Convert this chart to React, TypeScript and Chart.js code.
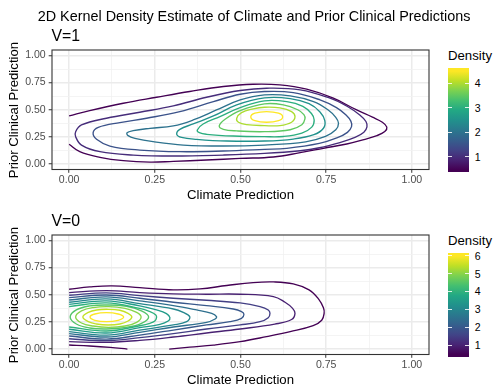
import React, { useEffect, useRef } from 'react';
import { Chart, registerables } from 'chart.js';

Chart.register(...registerables);

const FONT = '"Liberation Sans", Arial, Helvetica, sans-serif';
Chart.defaults.font.family = FONT;

// ---------- text ----------
const mainTitle = '2D Kernel Density Estimate of Climate and Prior Clinical Predictions';
const xAxisTitle = 'Climate Prediction';
const yAxisTitle = 'Prior Clinical Prediction';
const legendTitle = 'Density';

// ---------- axis breaks ----------
const axisBreaks = [0, 0.25, 0.5, 0.75, 1];
const axisMinorBreaks = [0.125, 0.375, 0.625, 0.875];

// ---------- panel V=1 ----------
const v1Title = 'V=1';
const v1Levels = [0.5, 1, 1.5, 2, 2.5, 3, 3.5, 4, 4.5];
const v1Closed = [false, true, true, true, true, true, true, true, true];
const v1LegendBreaks = [1, 2, 3, 4];
const v1Paths: number[][][] = [
  [[0,0.443],[0.060,0.492],[0.158,0.560],[0.255,0.615],[0.352,0.668],[0.450,0.714],[0.537,0.735],[0.615,0.729],[0.693,0.689],[0.771,0.606],[0.839,0.498],[0.885,0.432],[0.914,0.385],[0.927,0.340],[0.921,0.300],[0.898,0.262],[0.860,0.225],[0.810,0.185],[0.742,0.145],[0.674,0.105],[0.596,0.065],[0.499,0.052],[0.401,0.037],[0.304,0.025],[0.236,0.018],[0.158,0.031],[0.090,0.062],[0.031,0.114],[0,0.182]],
  [[0.019,0.298],[0.036,0.360],[0.109,0.422],[0.206,0.477],[0.304,0.535],[0.401,0.615],[0.499,0.677],[0.576,0.698],[0.674,0.683],[0.761,0.606],[0.812,0.530],[0.848,0.452],[0.866,0.392],[0.869,0.342],[0.860,0.293],[0.834,0.245],[0.790,0.198],[0.730,0.150],[0.674,0.123],[0.570,0.098],[0.450,0.083],[0.304,0.074],[0.187,0.083],[0.090,0.114],[0.036,0.175],[0.019,0.252]],
  [[0.070,0.289],[0.085,0.338],[0.148,0.382],[0.226,0.422],[0.323,0.483],[0.421,0.575],[0.499,0.643],[0.570,0.668],[0.654,0.658],[0.732,0.591],[0.780,0.520],[0.808,0.452],[0.822,0.395],[0.824,0.345],[0.812,0.292],[0.781,0.240],[0.730,0.190],[0.635,0.145],[0.570,0.135],[0.450,0.120],[0.323,0.114],[0.206,0.129],[0.119,0.166],[0.080,0.228]],
  [[0.169,0.289],[0.187,0.308],[0.236,0.329],[0.304,0.351],[0.362,0.406],[0.430,0.498],[0.499,0.591],[0.570,0.637],[0.645,0.628],[0.713,0.575],[0.755,0.500],[0.778,0.430],[0.786,0.375],[0.778,0.315],[0.748,0.255],[0.690,0.205],[0.570,0.175],[0.450,0.166],[0.333,0.175],[0.245,0.206],[0.192,0.237],[0.172,0.262]],
  [[0.314,0.274],[0.323,0.320],[0.362,0.369],[0.421,0.443],[0.489,0.545],[0.570,0.609],[0.645,0.603],[0.700,0.556],[0.732,0.480],[0.746,0.400],[0.742,0.330],[0.714,0.270],[0.654,0.230],[0.570,0.212],[0.460,0.212],[0.372,0.228],[0.328,0.246]],
  [[0.374,0.314],[0.391,0.369],[0.440,0.437],[0.499,0.520],[0.570,0.582],[0.635,0.575],[0.682,0.532],[0.707,0.465],[0.715,0.406],[0.708,0.340],[0.679,0.285],[0.625,0.254],[0.570,0.252],[0.479,0.258],[0.401,0.274],[0.380,0.289]],
  [[0.438,0.351],[0.455,0.412],[0.499,0.492],[0.570,0.554],[0.625,0.545],[0.667,0.500],[0.685,0.455],[0.688,0.415],[0.679,0.362],[0.645,0.316],[0.570,0.298],[0.489,0.305],[0.450,0.320]],
  [[0.489,0.422],[0.503,0.474],[0.537,0.508],[0.570,0.523],[0.615,0.517],[0.649,0.483],[0.659,0.437],[0.649,0.385],[0.615,0.354],[0.570,0.354],[0.518,0.363],[0.494,0.385]],
  [[0.530,0.434],[0.542,0.468],[0.576,0.483],[0.611,0.468],[0.623,0.434],[0.611,0.400],[0.576,0.385],[0.542,0.400]],
];

// ---------- panel V=0 ----------
const v0Title = 'V=0';
const v0Levels = [0.5, 0.5, 1, 1.5, 2, 2.5, 3, 3.5, 4, 4.5, 5, 5.5, 6];
const v0Closed = [false, false, false, false, false, false, false, false, false, true, true, true, true];
const v0LegendBreaks = [1, 2, 3, 4, 5, 6];
const v0Paths: number[][][] = [
  [[0,0.551],[0.060,0.572],[0.125,0.582],[0.206,0.566],[0.304,0.545],[0.382,0.554],[0.460,0.585],[0.537,0.612],[0.596,0.618],[0.654,0.600],[0.700,0.545],[0.728,0.460],[0.742,0.380],[0.744,0.330],[0.737,0.265],[0.712,0.215],[0.645,0.160],[0.576,0.114],[0.499,0.068],[0.421,0.037],[0.352,0.018],[0.292,0]],
  [[0,0.037],[0.060,0.028],[0.120,0.015],[0.170,0]],
  [[0,0.520],[0.109,0.538],[0.206,0.520],[0.304,0.508],[0.401,0.505],[0.499,0.505],[0.596,0.483],[0.630,0.431],[0.652,0.375],[0.659,0.329],[0.649,0.272],[0.600,0.230],[0.499,0.185],[0.401,0.148],[0.304,0.111],[0.206,0.080],[0.109,0.062],[0,0.068]],
  [[0,0.495],[0.109,0.517],[0.206,0.492],[0.304,0.468],[0.401,0.449],[0.499,0.425],[0.557,0.391],[0.581,0.360],[0.586,0.329],[0.581,0.289],[0.557,0.252],[0.499,0.222],[0.401,0.185],[0.304,0.142],[0.206,0.105],[0.109,0.077],[0,0.095]],
  [[0,0.474],[0.109,0.498],[0.206,0.468],[0.304,0.431],[0.401,0.400],[0.479,0.369],[0.503,0.345],[0.510,0.320],[0.503,0.283],[0.469,0.252],[0.401,0.222],[0.304,0.175],[0.206,0.129],[0.109,0.092],[0,0.120]],
  [[0,0.452],[0.109,0.480],[0.206,0.443],[0.304,0.400],[0.372,0.360],[0.416,0.329],[0.430,0.298],[0.426,0.277],[0.401,0.246],[0.304,0.203],[0.206,0.154],[0.109,0.111],[0,0.142]],
  [[0,0.431],[0.109,0.462],[0.206,0.418],[0.304,0.369],[0.333,0.338],[0.352,0.298],[0.343,0.252],[0.304,0.222],[0.206,0.175],[0.109,0.129],[0,0.160]],
  [[0,0.412],[0.109,0.443],[0.206,0.397],[0.255,0.360],[0.284,0.326],[0.294,0.289],[0.289,0.258],[0.265,0.228],[0.206,0.197],[0.109,0.148],[0,0.182]],
  [[0,0.391],[0.109,0.425],[0.206,0.375],[0.236,0.345],[0.253,0.314],[0.255,0.289],[0.250,0.258],[0.236,0.237],[0.206,0.215],[0.109,0.166],[0,0.203]],
  [[0.003,0.295],[0.021,0.360],[0.060,0.397],[0.109,0.406],[0.167,0.394],[0.211,0.351],[0.232,0.295],[0.211,0.237],[0.167,0.200],[0.109,0.185],[0.060,0.194],[0.021,0.231]],
  [[0.019,0.295],[0.036,0.351],[0.070,0.382],[0.115,0.391],[0.163,0.375],[0.197,0.338],[0.210,0.295],[0.197,0.246],[0.163,0.212],[0.115,0.200],[0.070,0.212],[0.036,0.240]],
  [[0.040,0.295],[0.056,0.338],[0.080,0.360],[0.114,0.366],[0.148,0.357],[0.172,0.329],[0.183,0.295],[0.172,0.258],[0.148,0.231],[0.114,0.222],[0.080,0.231],[0.056,0.252]],
  [[0.061,0.295],[0.075,0.323],[0.109,0.335],[0.143,0.323],[0.159,0.295],[0.143,0.265],[0.109,0.252],[0.075,0.265]],
];

// ---------- styling helpers ----------
const VIRIDIS = ['#440154', '#482475', '#414487', '#355F8D', '#2A788E', '#21918C', '#22A884', '#44BF70', '#7AD151', '#BDDF26', '#FDE725'];
const NBIN = 20;

function hexToRgb(h: string) {
  return [parseInt(h.slice(1, 3), 16), parseInt(h.slice(3, 5), 16), parseInt(h.slice(5, 7), 16)];
}
function viridis(t: number): string {
  const c = Math.max(0, Math.min(1, t)) * (VIRIDIS.length - 1);
  const i = Math.min(Math.floor(c), VIRIDIS.length - 2);
  const f = c - i;
  const a = hexToRgb(VIRIDIS[i]);
  const b = hexToRgb(VIRIDIS[i + 1]);
  const m = a.map((v, k) => Math.round(v + (b[k] - v) * f));
  return `rgb(${m[0]},${m[1]},${m[2]})`;
}

const isMajor = (v: number) => axisBreaks.some((b) => Math.abs(b - v) < 1e-9);
const gridValues = [...axisBreaks, ...axisMinorBreaks].sort((a, b) => a - b);

function buildDatasets(paths: number[][][], levels: number[], closed: boolean[]) {
  const lmin = Math.min(...levels);
  const lmax = Math.max(...levels);
  return paths.map((pts, i) => {
    const color = viridis((levels[i] - lmin) / (lmax - lmin));
    let data = pts.map(([x, y]) => ({ x, y }));
    const isClosed = closed[i];
    if (isClosed) {
      data = [data[data.length - 1], ...data, data[0], data[1]];
    }
    const last = data.length - 1;
    const ds: any = {
      data,
      showLine: true,
      borderColor: color,
      borderWidth: 1.35,
      pointRadius: 0,
      pointHoverRadius: 0,
      tension: 0.4,
      fill: false,
    };
    if (isClosed) {
      ds.segment = {
        borderColor: (ctx: any) =>
          ctx.p0DataIndex === 0 || ctx.p1DataIndex === last ? 'rgba(0,0,0,0)' : color,
      };
    }
    return ds;
  });
}

function axisScale(kind: 'x' | 'y') {
  return {
    type: 'linear',
    min: -0.05,
    max: 1.05,
    afterBuildTicks: (s: any) => {
      s.ticks = gridValues.map((v) => ({ value: v }));
    },
    afterFit: (s: any) => {
      if (kind === 'x') s.height = 30.5;
      else s.width = 52;
    },
    ticks: {
      autoSkip: false,
      maxRotation: 0,
      padding: kind === 'x' ? 1 : 3,
      color: '#4D4D4D',
      font: { family: FONT, size: 10.56 },
      callback: (v: any) => (isMajor(Number(v)) ? Number(v).toFixed(2) : ''),
    },
    grid: {
      drawTicks: true,
      tickLength: 3.3,
      tickWidth: 1,
      color: (ctx: any) => (ctx.tick && !isMajor(ctx.tick.value) ? '#F1F1F1' : '#EBEBEB'),
      lineWidth: (ctx: any) => (ctx.tick && !isMajor(ctx.tick.value) ? 0.8 : 1.5),
      tickColor: (ctx: any) => (ctx.tick && isMajor(ctx.tick.value) ? '#333333' : 'rgba(0,0,0,0)'),
    },
    border: { display: false },
  };
}

const borderPlugin = {
  id: 'panelBorder',
  afterDraw(chart: any) {
    const { ctx, chartArea: a } = chart;
    ctx.save();
    ctx.strokeStyle = '#333333';
    ctx.lineWidth = 1.1;
    ctx.strokeRect(a.left, a.top, a.right - a.left, a.bottom - a.top);
    ctx.restore();
  },
};

function ContourPanel({ top, paths, levels, closed }: { top: number; paths: number[][][]; levels: number[]; closed: boolean[] }) {
  const ref = useRef<HTMLCanvasElement>(null);
  useEffect(() => {
    const chart = new Chart(ref.current as HTMLCanvasElement, {
      type: 'scatter',
      data: { datasets: buildDatasets(paths, levels, closed) },
      options: {
        responsive: false,
        animation: false,
        devicePixelRatio: 1,
        events: [],
        layout: { padding: { top: 50, right: 11, bottom: 0, left: 0 } },
        plugins: { legend: { display: false }, tooltip: { enabled: false }, title: { display: false } },
        scales: { x: axisScale('x') as any, y: axisScale('y') as any },
      },
      plugins: [borderPlugin],
    } as any);
    return () => chart.destroy();
  }, []);
  return (
    <canvas
      ref={ref}
      width={440}
      height={200}
      style={{ position: 'absolute', left: 0, top, width: 440, height: 200 }}
    />
  );
}

function Txt({ x, baseline, size, color = '#000', center = false, children }: any) {
  return (
    <div
      style={{
        position: 'absolute',
        left: x,
        top: baseline - 0.8465 * size,
        fontSize: size,
        lineHeight: `${size}px`,
        whiteSpace: 'nowrap',
        color,
        fontFamily: FONT,
        transform: center ? 'translateX(-50%)' : undefined,
      }}
    >
      {children}
    </div>
  );
}

function ColorBar({ dy, levels, breaks }: { dy: number; levels: number[]; breaks: number[] }) {
  const lmin = Math.min(...levels);
  const lmax = Math.max(...levels);
  const half = (lmax - lmin) / (NBIN - 1) / 2;
  const lo = lmin - half;
  const hi = lmax + half;
  const barTop = 68.3 + dy;
  const barH = 103.4;
  const barLeft = 448;
  const barW = 21;
  const edge = (barH * half) / (hi - lo);
  const stops = VIRIDIS.map(
    (c, i) => `${c} ${(edge + ((barH - 2 * edge) * i) / (VIRIDIS.length - 1)).toFixed(2)}px`
  ).join(', ');
  const tickLen = barW / 5;
  return (
    <>
      <div
        style={{
          position: 'absolute',
          left: barLeft,
          top: barTop,
          width: barW,
          height: barH,
          background: `linear-gradient(to top, ${stops})`,
        }}
      />
      {breaks.map((b) => {
        const y = barTop + barH - ((b - lo) / (hi - lo)) * barH;
        return (
          <React.Fragment key={b}>
            <div style={{ position: 'absolute', left: barLeft, top: y - 0.5, width: tickLen, height: 1, background: 'rgba(255,255,255,0.85)' }} />
            <div style={{ position: 'absolute', left: barLeft + barW - tickLen, top: y - 0.5, width: tickLen, height: 1, background: 'rgba(255,255,255,0.85)' }} />
            <Txt x={474.8} baseline={y + 0.358 * 10.56} size={10.56}>
              {String(b)}
            </Txt>
          </React.Fragment>
        );
      })}
      <Txt x={448} baseline={60.5 + dy} size={13.2}>
        {legendTitle}
      </Txt>
    </>
  );
}

function YTitle({ cy }: { cy: number }) {
  return (
    <div
      style={{
        position: 'absolute',
        left: 14,
        top: cy,
        transform: 'translate(-50%, -50%) rotate(-90deg)',
        fontSize: 13.2,
        lineHeight: '13.2px',
        whiteSpace: 'nowrap',
        fontFamily: FONT,
        color: '#000',
      }}
    >
      {yAxisTitle}
    </div>
  );
}

export default function App() {
  const dy2 = 185;
  return (
    <div
      style={{
        position: 'absolute',
        left: 0,
        top: 0,
        width: 493,
        height: 385,
        background: '#ffffff',
        overflow: 'hidden',
        fontFamily: FONT,
      }}
    >
      <ContourPanel top={0} paths={v1Paths} levels={v1Levels} closed={v1Closed} />
      <ContourPanel top={dy2} paths={v0Paths} levels={v0Levels} closed={v0Closed} />

      <Txt x={254} baseline={21} size={14.4} center>
        {mainTitle}
      </Txt>

      <Txt x={51.5} baseline={41.5} size={15.84}>
        {v1Title}
      </Txt>
      <Txt x={51.5} baseline={41.5 + dy2} size={15.84}>
        {v0Title}
      </Txt>

      <Txt x={240.5} baseline={199.3} size={13.2} center>
        {xAxisTitle}
      </Txt>
      <Txt x={240.5} baseline={199.3 + dy2} size={13.2} center>
        {xAxisTitle}
      </Txt>

      <YTitle cy={109.75} />
      <YTitle cy={109.75 + dy2} />

      <ColorBar dy={0} levels={v1Levels} breaks={v1LegendBreaks} />
      <ColorBar dy={dy2} levels={v0Levels} breaks={v0LegendBreaks} />
    </div>
  );
}
